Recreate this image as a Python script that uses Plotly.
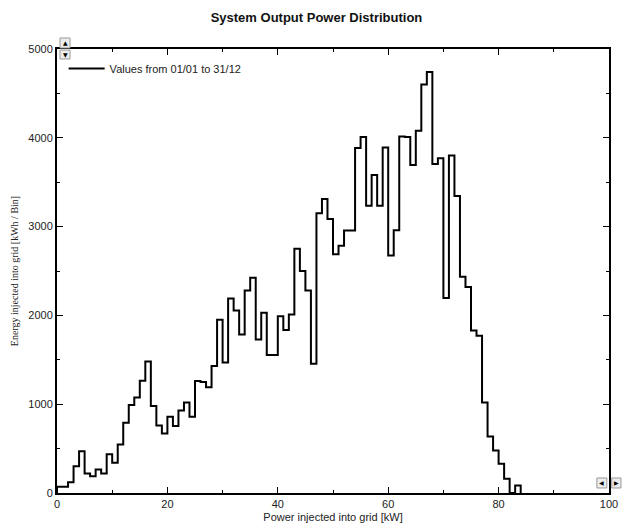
import plotly.graph_objects as go

# Energy injected into the grid per 1 kW power bin (kWh / bin)
bin_start_kw = list(range(0, 84))
energy_kwh = [
    70, 70, 120, 300, 470, 220, 190, 265, 220, 435,
    340, 545, 790, 990, 1075, 1265, 1480, 980, 760, 670,
    860, 755, 930, 1020, 860, 1260, 1250, 1190, 1430, 1950,
    1470, 2190, 2055, 1785, 2280, 2425, 1730, 2030, 1555, 1555,
    1990, 1835, 2010, 2750, 2500, 2280, 1455, 3150, 3310, 3085,
    2690, 2785, 2955, 2955, 3885, 4010, 3235, 3580, 3235, 3890,
    2675, 2960, 4015, 4010, 3695, 4080, 4600, 4740, 3705, 3770,
    2195, 3800, 3345, 2435, 2320, 1830, 1770, 1020, 635, 480,
    330, 160, 0, 85,
]
bin_width_kw = 1

x_ticks = [0, 20, 40, 60, 80, 100]
y_ticks = [0, 1000, 2000, 3000, 4000, 5000]

# step outline: left edge of every bin, then close back to zero after the last one
step_x = [bin_start_kw[0]] + bin_start_kw + [bin_start_kw[-1] + bin_width_kw]
step_y = [0] + energy_kwh + [0]

FONT = "Liberation Sans, Arial, sans-serif"

fig = go.Figure()
fig.add_trace(go.Scatter(
    x=step_x, y=step_y, mode="lines", line_shape="hv",
    line=dict(color="black", width=2),
    name="Values from 01/01 to 31/12",
))

axis_common = dict(
    showline=True, linecolor="black", linewidth=2, mirror="allticks",
    ticks="inside", ticklen=6, tickwidth=1, tickcolor="black",
    showgrid=False, zeroline=False, automargin=False,
    tickfont=dict(family=FONT, size=11, color="#222"),
)

fig.update_xaxes(
    range=[0, 100], tickvals=x_ticks,
    minor=dict(dtick=10, ticks="inside", ticklen=3, tickcolor="black", showgrid=False),
    title=dict(text="Power injected into grid [kW]",
               font=dict(family=FONT, size=11, color="#222"), standoff=4),
    **axis_common,
)
fig.update_yaxes(
    range=[0, 5000], tickvals=y_ticks,
    minor=dict(dtick=500, ticks="inside", ticklen=3, tickcolor="black", showgrid=False),
    title=dict(text="Energy injected into grid [kWh / Bin]",
               font=dict(family="Liberation Serif, Times New Roman, serif", size=10, color="#222"),
               standoff=8),
    **axis_common,
)

# small scroll buttons at the top-left and bottom-right corners of the plot frame
buttons = [
    (0.0054, 0.0236, 1.0023, 1.0248, "\u25b2"),
    (0.0054, 0.0236, 0.9775, 0.9977, "\u25bc"),
    (0.978, 0.996, 0.0113, 0.0338, "\u25c0"),
    (1.005, 1.0217, 0.0113, 0.0338, "\u25b6"),
]
shapes = []
annotations = []
for x0, x1, y0, y1, glyph in buttons:
    shapes.append(dict(type="rect", xref="paper", yref="paper",
                       x0=x0, x1=x1, y0=y0, y1=y1,
                       fillcolor="#ececec", line=dict(color="#9a9a9a", width=1)))
    annotations.append(dict(xref="paper", yref="paper",
                            x=(x0 + x1) / 2, y=(y0 + y1) / 2,
                            text=glyph, showarrow=False,
                            font=dict(family="DejaVu Sans", size=6, color="black"),
                            xanchor="center", yanchor="middle"))

fig.update_layout(
    width=623, height=526,
    margin=dict(l=57, r=14, t=49, b=33),
    paper_bgcolor="white", plot_bgcolor="white",
    title=dict(text="<b>System Output Power Distribution</b>",
               font=dict(family=FONT, size=13, color="#111"),
               x=0.508, xref="container", xanchor="center",
               y=1 - 17 / 526, yref="container", yanchor="middle"),
    showlegend=True,
    legend=dict(x=0.012, y=0.9885, xanchor="left", yanchor="top",
                bgcolor="rgba(0,0,0,0)", font=dict(family=FONT, size=11, color="#222"),
                itemwidth=36),
    shapes=shapes, annotations=annotations,
)

fig.write_html("out.html")
